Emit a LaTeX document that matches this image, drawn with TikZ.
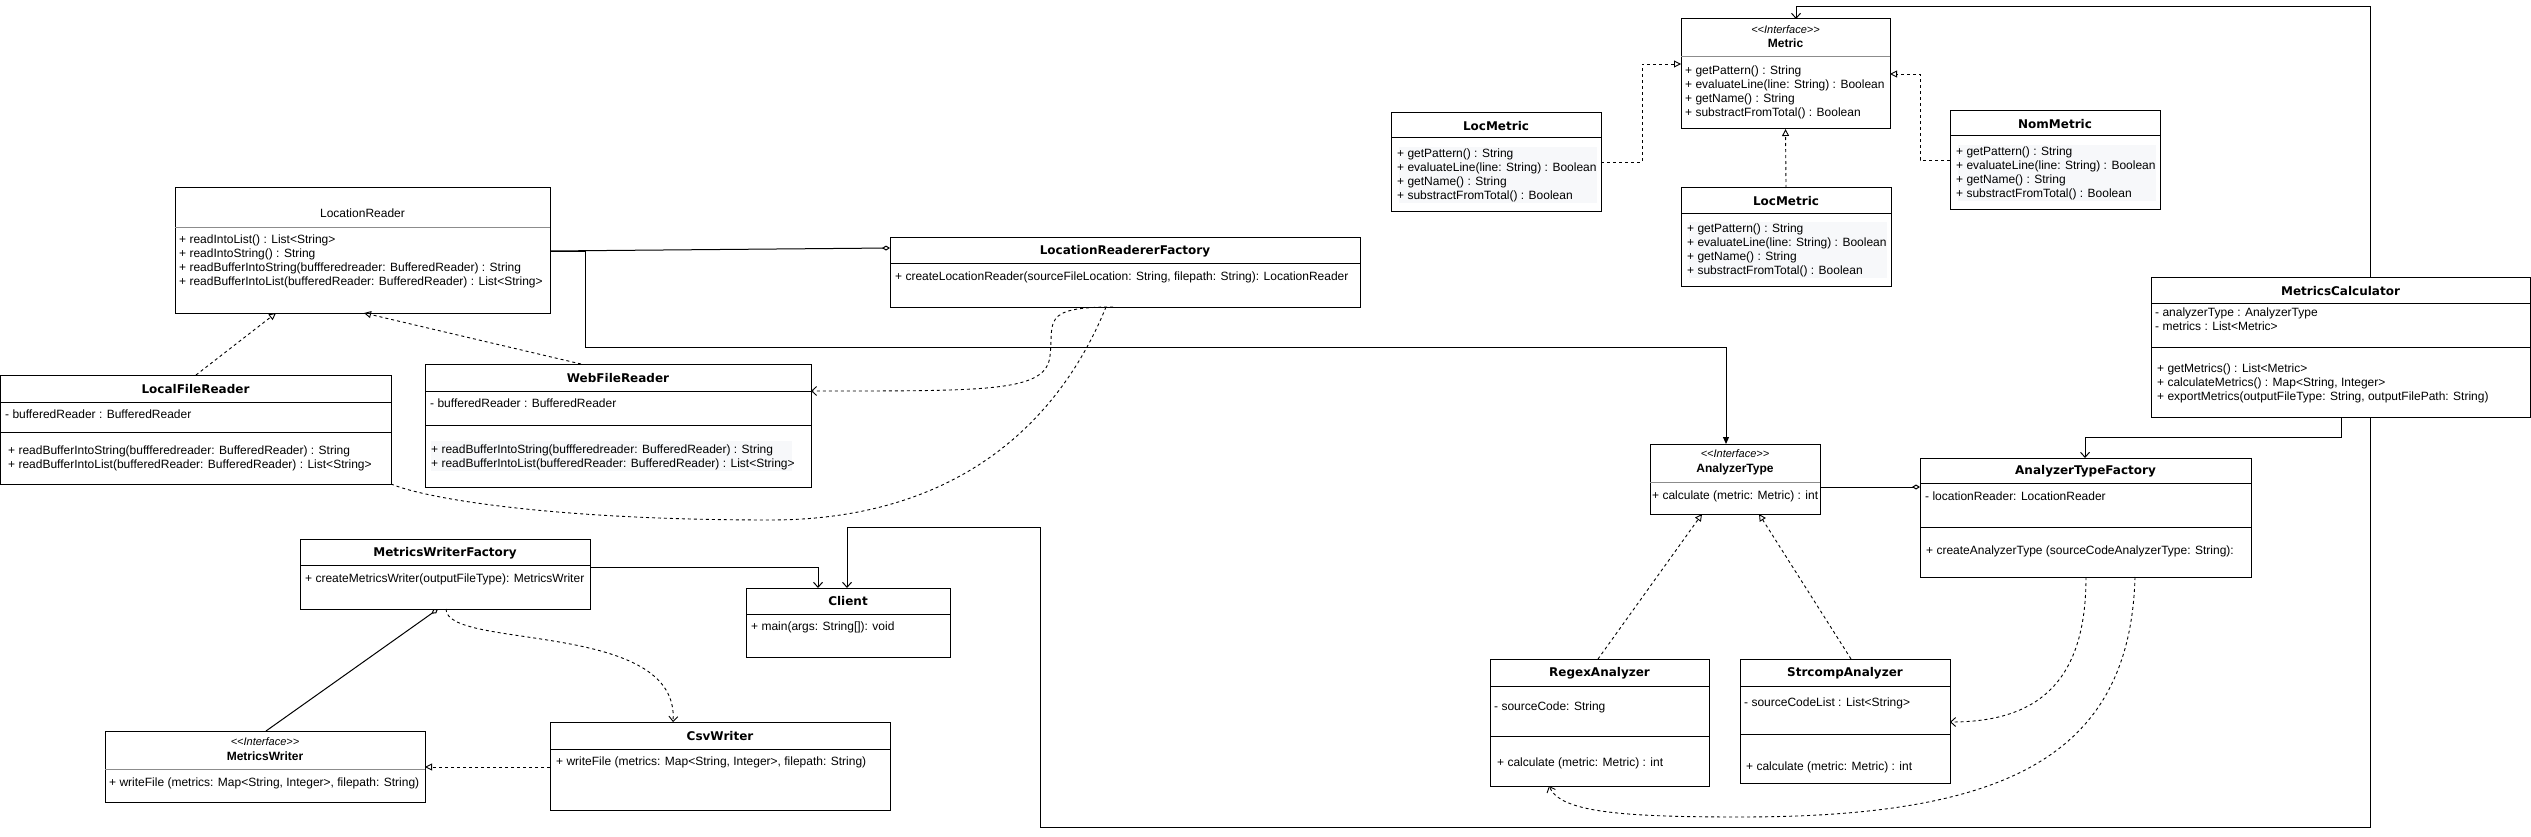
\documentclass[tikz,border=0pt]{standalone}
\usepackage{fontspec}
\setmainfont{Liberation Sans}
\newfontfamily\titlefont{DejaVu Sans}
\usetikzlibrary{arrows.meta}

\definecolor{memfill}{HTML}{F7F8FA}

% クラス図のスタイル
\tikzset{
    clsbox/.style={draw, fill=white, line width=1pt, inner sep=0pt, outer sep=0pt, anchor=north west},
    ttl/.style={font=\titlefont\bfseries\fontsize{12}{14}\selectfont, inner sep=0pt},
    ittl/.style={font=\bfseries\fontsize{12}{14}\selectfont, inner sep=0pt},
    ntl/.style={font=\fontsize{12}{14}\selectfont, inner sep=0pt},
    stereo/.style={font=\itshape\fontsize{11}{13}\selectfont, inner sep=0pt},
    mem/.style={font=\fontsize{12}{14}\selectfont, inner sep=0pt, anchor=west, text height=9pt, text depth=2.5pt},
    membg/.style={fill=memfill},
    dline/.style={line width=0.9pt, dash pattern=on 3pt off 3pt},
    realize/.style={dline, -{Triangle[open, length=7pt, width=7pt]}},
    depend/.style={dline, -{Straight Barb[length=5pt, width=9pt]}},
    assoc/.style={line width=1pt, -{Straight Barb[length=5pt, width=9pt]}},
    navig/.style={line width=1pt, -{Triangle[length=7pt, width=6pt]}},
    aggr/.style={line width=1pt, -{Diamond[open, length=8pt, width=5pt]}},
}

% クラスの枠（名前, 左, 上, 右, 下）
\newcommand{\umlclass}[5]{%
    \node[clsbox, minimum width={#4-#2}, minimum height={#5-#3}] (#1) at (#2,#3) {};
}
% 区切り線
\newcommand{\umlsep}[3][black]{%
    \draw[#1, line width=1pt] (#2.west |- 0,{#3}) -- (#2.east |- 0,{#3});
}
% メンバを1行ずつ
\newcommand{\umlmem}[4]{%
    \foreach \txt [count=\i] in {#4}
        \node[mem] (#1\i) at (#2,{#3+\rowh*(\i-1)}) {\txt};
}
\newcommand{\stereotype}[1]{<\kern0pt<#1>\kern0pt>}

\begin{document}
\begin{tikzpicture}[x=1pt, y=-1pt]

    % パラメータの定義
    \pgfmathsetmacro{\rowh}{14}

    % 図の範囲
    \useasboundingbox (0,0) rectangle (2531,837);

    % インターフェース Metric
    \umlclass{metric}{1681}{19}{1890}{129}
    \umlsep[black!45]{metric}{57}
    \node[stereo] (metric-s) at (metric.north |- 0,30) {\stereotype{Interface}};
    \node[ittl] (metric-t) at (metric.north |- 0,43) {Metric};
    \umlmem{metric-m}{1685}{71}{+ getPattern() : String, + evaluateLine(line: String) : Boolean, + getName() : String, + substractFromTotal() : Boolean}

    % Metric の実装クラス（メソッドは3つとも同じ）
    \foreach \n/\nm/\x/\y in {locA/LocMetric/1391/113, locB/LocMetric/1681/188, nom/NomMetric/1950/111} {
        \umlclass{\n}{\x}{\y}{\x+210}{\y+98}
        \fill[membg] (\x+8,\y+34) rectangle (\x+206,\y+90);
        \umlsep{\n}{\y+25}
        \node[ttl] (\n-t) at (\n.north |- 0,{\y+13}) {\nm};
        \umlmem{\n-m}{\x+6}{\y+41}{+ getPattern() : String, + evaluateLine(line: String) : Boolean, + getName() : String, + substractFromTotal() : Boolean}
    }

    % LocationReader
    \umlclass{lr}{175}{188}{550}{313}
    \umlsep[black!45]{lr}{227}
    \node[ntl] (lr-t) at (lr.north |- 0,213) {LocationReader};
    \umlmem{lr-m}{179}{240}{+ readIntoList() : List<String>, + readIntoString() : String, + readBufferIntoString(buffferedreader: BufferedReader) : String, + readBufferIntoList(bufferedReader: BufferedReader) : List<String>}

    % LocationReadererFactory
    \umlclass{lrf}{890}{237}{1360}{307}
    \umlsep{lrf}{263}
    \node[ttl] (lrf-t) at (lrf.north |- 0,251) {LocationReadererFactory};
    \umlmem{lrf-m}{895}{277}{{+ createLocationReader(sourceFileLocation: String, filepath: String): LocationReader}}

    % LocalFileReader
    \umlclass{lfr}{0}{375}{391}{484}
    \umlsep{lfr}{402}
    \umlsep{lfr}{432}
    \node[ttl] (lfr-t) at (lfr.north |- 0,389) {LocalFileReader};
    \umlmem{lfr-a}{5}{415}{- bufferedReader : BufferedReader}
    \umlmem{lfr-o}{8}{451}{+ readBufferIntoString(buffferedreader: BufferedReader) : String, + readBufferIntoList(bufferedReader: BufferedReader) : List<String>}

    % WebFileReader
    \umlclass{wfr}{425}{364}{811}{487}
    \fill[membg] (431,441) rectangle (792,471);
    \umlsep{wfr}{391}
    \umlsep{wfr}{425}
    \node[ttl] (wfr-t) at (wfr.north |- 0,378) {WebFileReader};
    \umlmem{wfr-a}{430}{404}{- bufferedReader : BufferedReader}
    \umlmem{wfr-o}{431}{450}{+ readBufferIntoString(buffferedreader: BufferedReader) : String, + readBufferIntoList(bufferedReader: BufferedReader) : List<String>}

    % MetricsWriterFactory
    \umlclass{mwf}{300}{539}{590}{609}
    \umlsep{mwf}{565}
    \node[ttl] (mwf-t) at (mwf.north |- 0,553) {MetricsWriterFactory};
    \umlmem{mwf-m}{305}{579}{+ createMetricsWriter(outputFileType): MetricsWriter}

    % Client
    \umlclass{client}{746}{588}{950}{657}
    \umlsep{client}{614}
    \node[ttl] (client-t) at (client.north |- 0,601) {Client};
    \umlmem{client-m}{751}{627}{+ main(args: String[]): void}

    % インターフェース MetricsWriter
    \umlclass{mw}{105}{731}{425}{802}
    \umlsep[black!45]{mw}{769}
    \node[stereo] (mw-s) at (mw.north |- 0,742) {\stereotype{Interface}};
    \node[ittl] (mw-t) at (mw.north |- 0,756) {MetricsWriter};
    \umlmem{mw-m}{109}{783}{{+ writeFile (metrics: Map<String, Integer>, filepath: String)}}

    % CsvWriter
    \umlclass{csv}{550}{722}{890}{810}
    \umlsep{csv}{749}
    \node[ttl] (csv-t) at (csv.north |- 0,736) {CsvWriter};
    \umlmem{csv-m}{556}{762}{{+ writeFile (metrics: Map<String, Integer>, filepath: String)}}

    % インターフェース AnalyzerType
    \umlclass{atype}{1650}{444}{1820}{514}
    \umlsep[black!45]{atype}{482}
    \node[stereo] (atype-s) at (atype.north |- 0,454) {\stereotype{Interface}};
    \node[ittl] (atype-t) at (atype.north |- 0,469) {AnalyzerType};
    \umlmem{atype-m}{1652}{496}{+ calculate (metric: Metric) : int}

    % AnalyzerTypeFactory
    \umlclass{atf}{1920}{458}{2251}{577}
    \umlsep{atf}{483}
    \umlsep{atf}{527}
    \node[ttl] (atf-t) at (atf.north |- 0,471) {AnalyzerTypeFactory};
    \umlmem{atf-a}{1925}{497}{- locationReader: LocationReader}
    \umlmem{atf-o}{1926}{551}{+ createAnalyzerType (sourceCodeAnalyzerType: String):}

    % MetricsCalculator
    \umlclass{mcalc}{2151}{277}{2530}{417}
    \umlsep{mcalc}{303}
    \umlsep{mcalc}{347}
    \node[ttl] (mcalc-t) at (mcalc.north |- 0,291) {MetricsCalculator};
    \umlmem{mcalc-a}{2155}{313}{- analyzerType : AnalyzerType, - metrics : List<Metric>}
    \umlmem{mcalc-o}{2157}{369}{+ getMetrics() : List<Metric>, {+ calculateMetrics() : Map<String, Integer>}, {+ exportMetrics(outputFileType: String, outputFilePath: String)}}

    % RegexAnalyzer
    \umlclass{regex}{1490}{659}{1709}{786}
    \umlsep{regex}{686}
    \umlsep{regex}{736}
    \node[ttl] (regex-t) at (regex.north |- 0,673) {RegexAnalyzer};
    \umlmem{regex-a}{1494}{707}{- sourceCode: String}
    \umlmem{regex-o}{1497}{763}{+ calculate (metric: Metric) : int}

    % StrcompAnalyzer
    \umlclass{strc}{1740}{659}{1950}{783}
    \umlsep{strc}{686}
    \umlsep{strc}{734}
    \node[ttl] (strc-t) at (strc.north |- 0,673) {StrcompAnalyzer};
    \umlmem{strc-a}{1744}{703}{- sourceCodeList : List<String>}
    \umlmem{strc-o}{1746}{767}{+ calculate (metric: Metric) : int}

    % 実現（点線と白抜き三角）
    \draw[realize] (locA.east) -- ++(41,0) |- (metric.west |- 0,64);
    \draw[realize] (locB.north) -- (metric.south);
    \draw[realize] (nom.west) -- ++(-30,0) |- (metric.east |- 0,74);
    \draw[realize] (lfr.north -| 196,0) -- (lr.south -| 276,0);
    \draw[realize] (wfr.north -| 581,0) -- (lr.south -| 364,0);
    \draw[realize] (csv.west |- 0,767) -- (mw.east |- 0,767);
    \draw[realize] (regex.north -| 1598,0) -- (atype.south -| 1702,0);
    \draw[realize] (strc.north -| 1851,0) -- (atype.south -| 1759,0);

    % 関連（実線の矢印）
    \draw[assoc] (mcalc.north -| 2370,0) |- (1796,7) -- (metric.north -| 1796,0);
    \draw[assoc] (mcalc.south -| 2370,0) |- (1040,827) |- (847,527) -- (client.north -| 847,0);
    \draw[assoc] (mcalc.south -| 2341,0) |- (2085,437) -- (atf.north -| 2085,0);
    \draw[assoc] (mwf.east |- 0,567) -| (client.north -| 818,0);
    \draw[navig] (lr.east |- 0,251) -| (585,347) -| (atype.north -| 1726,0);

    % 集約（白抜きひし形）
    \draw[aggr] (lr.east |- 0,251) -- (lrf.west |- 0,248);
    \draw[aggr] (mw.north -| 266,0) -- (mwf.south -| 438,0);
    \draw[aggr] (atype.east |- 0,487) -- (atf.west |- 0,487);

    % 依存（点線の曲線）
    \draw[depend] (lrf.south -| 1113,0) .. controls (1040,307) and (1054,322) .. (1050,356) .. controls (1046,392) and (990,391) .. (wfr.east |- 0,391);
    \draw[dline] (lrf.south -| 1106,0) .. controls (1060,420) and (960,520) .. (770,520) .. controls (560,520) and (430,500) .. (lfr.south east);
    \draw[depend] (mwf.south -| 446,0) .. controls (446,650) and (680,620) .. (csv.north -| 673,0);
    \draw[depend] (atf.south -| 2086,0) .. controls (2086,680) and (2040,722) .. (strc.east |- 0,722);
    \draw[depend] (atf.south -| 2135,0) .. controls (2130,760) and (2000,817) .. (1740,817) .. controls (1620,817) and (1560,812) .. (regex.south -| 1549,0);
    %
\end{tikzpicture}
\end{document}
